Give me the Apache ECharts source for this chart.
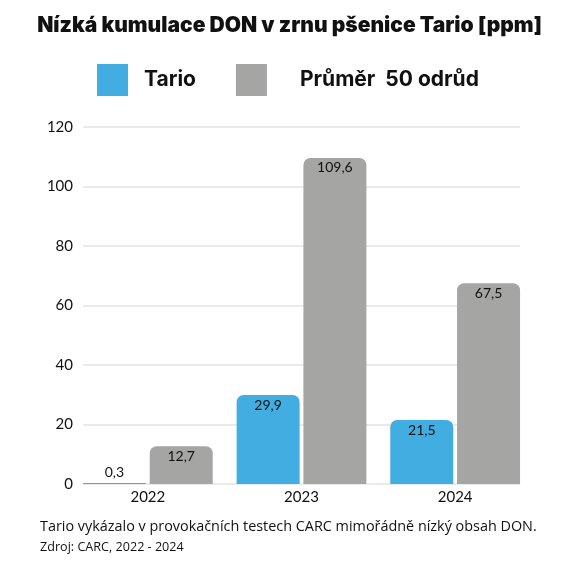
<!DOCTYPE html>
<html><head><meta charset="utf-8">
<script src="https://cdn.jsdelivr.net/npm/echarts@6/dist/echarts.min.js"></script>
<style>html,body{margin:0;padding:0;background:#fff}#c{width:579px;height:567px}</style>
</head><body><div id="c"></div>
<script>
const categories = ['2022', '2023', '2024'];
const tario = [0.3, 29.9, 21.5];
const prumer = [12.7, 109.6, 67.5];
const seriesNames = ['Tario', 'Průměr  50 odrůd'];
const yTicks = {min: 0, max: 120, interval: 20};
const titleText = 'Nízká kumulace DON v zrnu pšenice Tario [ppm]';
const footer1 = 'Tario vykázalo v provokačních testech CARC mimořádně nízký obsah DON.';
const footer2 = 'Zdroj: CARC, 2022 - 2024';

const BLUE = '#42ade0', GREY = '#a5a5a3';
const fmt = v => String(v).replace('.', ',');
function mk(vals) {
  return vals.map(v => ({
    value: v,
    label: v < 5 ? {position: 'top', distance: 4} : {position: 'insideTop', distance: 3}
  }));
}
const chart = echarts.init(document.getElementById('c'), null, {renderer: 'canvas'});
chart.setOption({
  backgroundColor: '#fff',
  animation: false,
  title: {
    text: titleText, left: 'center', top: 10,
    textStyle: {fontFamily: 'Inter', fontWeight: 900, fontSize: 21, color: '#111'}
  },
  legend: {
    left: 92, top: 59, itemWidth: 31, itemHeight: 32, itemGap: 40, icon: 'rect',
    textStyle: {fontFamily: 'Inter', fontWeight: 700, fontSize: 21, color: '#111'},
    data: [
      {name: seriesNames[0], textStyle: {padding: [0, 0, 0, 11]}},
      {name: seriesNames[1], textStyle: {padding: [0, 0, 0, 28]}}
    ]
  },
  grid: [
    {left: 83, right: 59, top: 127, bottom: 83},
    {left: 71, right: 47, top: 127, bottom: 83}
  ],
  xAxis: [
    {type: 'value', gridIndex: 0, show: false, min: 0, max: 1},
    {type: 'category', gridIndex: 1, data: categories,
     axisLine: {show: false}, axisTick: {show: false},
     axisLabel: {fontFamily: 'Lato', fontSize: 15, color: '#111', margin: 6}}
  ],
  yAxis: [
    {type: 'value', gridIndex: 0, min: yTicks.min, max: yTicks.max, interval: yTicks.interval,
     axisLine: {show: false}, axisTick: {show: false},
     axisLabel: {fontFamily: 'Lato', fontSize: 15, color: '#111', margin: 10},
     splitLine: {lineStyle: {color: '#e3e3e3', width: 1.5}}},
    {type: 'value', gridIndex: 1, min: yTicks.min, max: yTicks.max, show: false, splitLine: {show: false}}
  ],
  series: [
    {name: seriesNames[0], type: 'bar', xAxisIndex: 1, yAxisIndex: 1, data: mk(tario),
     barWidth: 63, barGap: '6%', itemStyle: {color: BLUE, borderRadius: [7, 7, 0, 0]},
     label: {show: true, formatter: p => fmt(p.value), fontFamily: 'Lato', fontSize: 14, color: '#111'}},
    {name: seriesNames[1], type: 'bar', xAxisIndex: 1, yAxisIndex: 1, data: mk(prumer),
     barWidth: 63, barGap: '6%', itemStyle: {color: GREY, borderRadius: [7, 7, 0, 0]},
     label: {show: true, formatter: p => fmt(p.value), fontFamily: 'Lato', fontSize: 14, color: '#111'}}
  ],
  graphic: [
    {type: 'text', left: 40, top: 520, style: {text: footer1, font: '14.4px "Open Sans"', fill: '#111'}},
    {type: 'text', left: 40, top: 541, style: {text: footer2, font: '12.6px "Open Sans"', fill: '#111'}}
  ]
});
</script></body></html>
